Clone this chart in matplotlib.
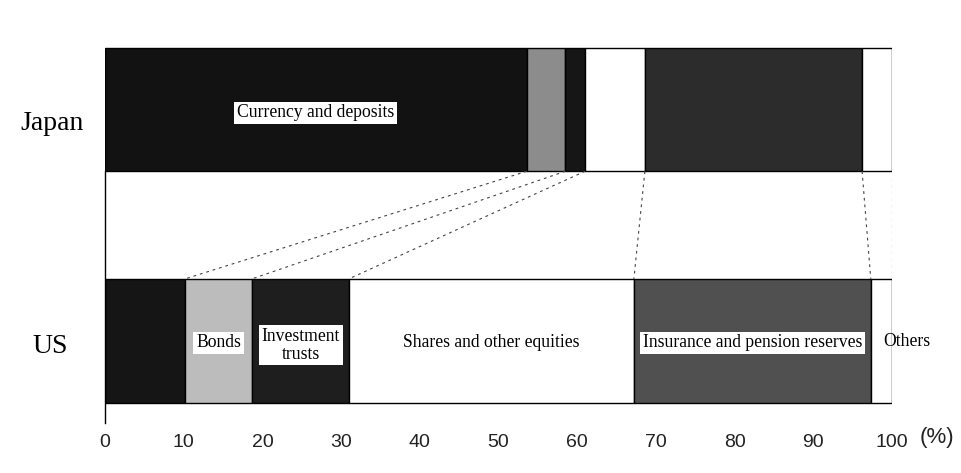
import numpy as np
import matplotlib.pyplot as plt

# household financial assets, share of total (%)
countries = ['US', 'Japan']
categories = ['Currency and deposits', 'Bonds', 'Investment trusts',
              'Shares and other equities', 'Insurance and pension reserves', 'Others']
japan = [53.6, 4.9, 2.5, 7.6, 27.6, 3.8]
us = [10.2, 8.5, 12.3, 36.2, 30.1, 2.7]
japan_colors = ['#121212', '#8c8c8c', '#161616', '#ffffff', '#2c2c2c', '#ffffff']
us_colors = ['#151515', '#bcbcbc', '#1e1e1e', '#ffffff', '#505050', '#ffffff']

bar_h = 0.535
serif = ['Liberation Serif', 'DejaVu Serif']
sans = ['Liberation Sans', 'DejaVu Sans']

fig = plt.figure(figsize=(9.62, 4.73), dpi=100)
ax = fig.add_axes([105 / 962, 1 - 423 / 473, 787 / 962, 383 / 473])

shares = {'US': us, 'Japan': japan}
fills = {'US': us_colors, 'Japan': japan_colors}
lefts = {}
for yi, c in enumerate(countries):
    vals = np.array(shares[c])
    left = np.concatenate([[0], np.cumsum(vals)[:-1]])
    lefts[c] = np.concatenate([left, [100]])
    ax.barh(yi, vals, left=left, height=bar_h, color=fills[c],
            edgecolor='black', linewidth=1.0)

# dashed connectors between segment boundaries
jp_edges = lefts['Japan'][1:]
us_edges = lefts['US'][1:]
for xj, xu in zip(jp_edges, us_edges):
    ax.plot([xj, xu], [1 - bar_h / 2, bar_h / 2], color='#444444',
            linestyle=(0, (2.5, 3.5)), linewidth=0.8)

box = dict(facecolor='white', edgecolor='none', pad=2)
fs = 12.7

# Japan label
jl = lefts['Japan']
ax.text((jl[0] + jl[1]) / 2, 0.985, categories[0], ha='center', va='center',
        fontsize=fs, family=serif, bbox=box)

# US labels
ul = lefts['US']
ax.text((ul[1] + ul[2]) / 2, -0.01, 'Bonds', ha='center', va='center',
        fontsize=fs, family=serif, bbox=box)
ax.text((ul[2] + ul[3]) / 2, -0.02, 'Investment\ntrusts', ha='center', va='center',
        fontsize=fs, family=serif, bbox=box, linespacing=1.05)
ax.text((ul[3] + ul[4]) / 2, -0.01, categories[3], ha='center', va='center',
        fontsize=fs, family=serif)
ax.text((ul[4] + ul[5]) / 2, -0.01, categories[4], ha='center', va='center',
        fontsize=fs, family=serif, bbox=box)
ax.text(98.9, -0.005, 'Others', ha='left', va='center', fontsize=fs, family=serif)

# country names
ax.text(-6.7, 1 - 0.091, 'Japan', ha='center', va='baseline', fontsize=20, family=serif)
ax.text(-7.0, -0.054, 'US', ha='center', va='baseline', fontsize=20, family=serif)

ax.set_xlim(0, 100)
ax.set_ylim(-0.356, 1.30)
ax.set_xticks(range(0, 101, 10))
ax.set_xticklabels([str(t) for t in range(0, 101, 10)], family=sans, fontsize=14,
                   color='#222222')
ax.tick_params(axis='x', length=0, pad=8)
ax.set_yticks([])
for s in ['top', 'right', 'bottom']:
    ax.spines[s].set_visible(False)
ax.spines['left'].set_bounds(-0.356, 1 - bar_h / 2)
ax.spines['left'].set_linewidth(1.0)
ax.text(105.7, -0.42, '(%)', ha='center', va='center', fontsize=16,
        family=sans, color='#222222', clip_on=False)

fig.savefig('out.png', dpi=100)
